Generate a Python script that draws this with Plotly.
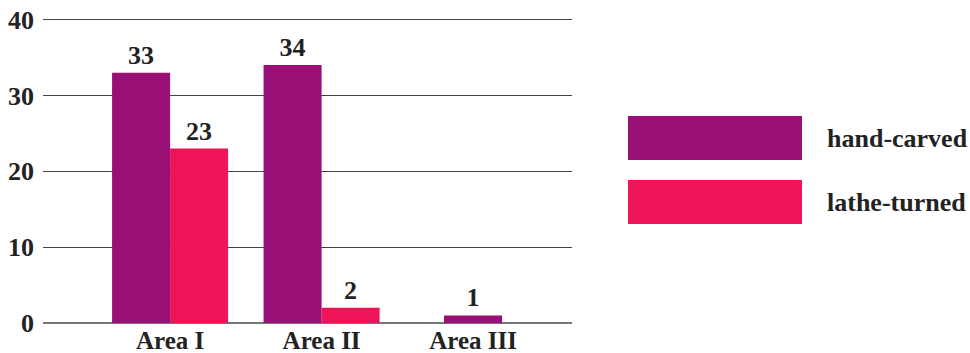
import plotly.graph_objects as go

categories = ["Area I", "Area II", "Area III"]
hand_carved = [33, 34, 1]
lathe_turned = [23, 2, None]
series_names = ["hand-carved", "lathe-turned"]
colors = ["#990f75", "#ee1458"]

FONT = "Liberation Serif, Times New Roman, serif"
FS = 26
W, H = 970, 353
YMAX = 41
L, R, B = 43, 398, 30
T = round(20 - (YMAX - 40) * 303 / 40)
BW = 0.383

fig = go.Figure()
fig.add_trace(go.Bar(
    x=categories, y=hand_carved, name=series_names[0],
    marker=dict(color=colors[0], line=dict(width=0)),
    width=BW, offset=[-BW, -BW, -BW / 2],
    text=[str(v) for v in hand_carved], textposition="outside",
    textfont=dict(family=FONT, size=FS, color="#222", weight="bold"),
    cliponaxis=False, showlegend=False,
))
fig.add_trace(go.Bar(
    x=categories, y=lathe_turned, name=series_names[1],
    marker=dict(color=colors[1], line=dict(width=0)),
    width=BW, offset=0,
    text=["" if v is None else str(v) for v in lathe_turned], textposition="outside",
    textfont=dict(family=FONT, size=FS, color="#222", weight="bold"),
    cliponaxis=False, showlegend=False,
))

pw = W - L - R
ph = H - T - B
def px_x(p):
    return (p - L) / pw
def px_y(p):
    return (H - B - p) / ph

shapes = []
annotations = []
sw = [(116, 160), (180, 224)]
for i, name in enumerate(series_names):
    y0, y1 = sw[i]
    shapes.append(dict(type="rect", xref="paper", yref="paper",
                       x0=px_x(628), x1=px_x(802), y0=px_y(y1), y1=px_y(y0),
                       fillcolor=colors[i], line=dict(width=0)))
    annotations.append(dict(xref="paper", yref="paper", x=px_x(825), y=px_y((y0 + y1) / 2),
                            text=f"<b>{name}</b>", showarrow=False, xanchor="left", yanchor="middle",
                            font=dict(family=FONT, size=FS, color="#222")))

fig.update_layout(
    width=W, height=H,
    margin=dict(l=L, r=R, t=T, b=B, pad=0),
    plot_bgcolor="white", paper_bgcolor="white",
    barmode="overlay",
    font=dict(family=FONT, size=FS, color="#222", weight="bold"),
    shapes=shapes, annotations=annotations,
    xaxis=dict(range=[-0.839, 2.653], showgrid=False, showline=False, zeroline=False,
               ticks="", automargin=False, ticklabelstandoff=0,
               tickfont=dict(family=FONT, size=25, color="#222", weight="bold")),
    yaxis=dict(range=[0, YMAX], tickvals=[0, 10, 20, 30, 40], showgrid=True,
               gridcolor="#444", gridwidth=1, zeroline=True, zerolinecolor="#777", zerolinewidth=1.5,
               showline=False, ticks="", automargin=False, ticklabelstandoff=8,
               tickfont=dict(family=FONT, size=FS, color="#222", weight="bold")),
)

fig.write_html("out.html")
